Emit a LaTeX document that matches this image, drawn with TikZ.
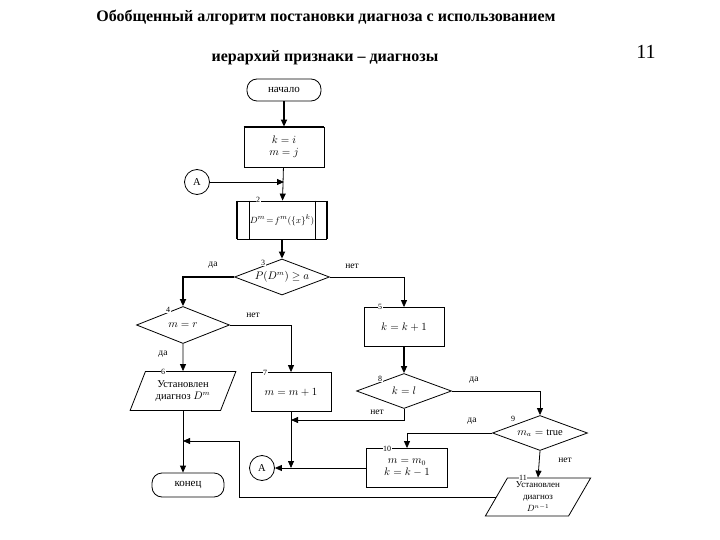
\documentclass[tikz,border=0pt]{standalone}
\usepackage{fontspec}
\setmainfont{Liberation Serif}
\usetikzlibrary{shapes.geometric,arrows.meta,calc}
\begin{document}
\begin{tikzpicture}[x=1pt,y=-1pt,
  base/.style={draw, line width=0.8pt, inner sep=1pt, font=\fontsize{10.5}{12}\selectfont, align=center},
  term/.style={base, rectangle, rounded corners=10pt},
  proc/.style={base, rectangle},
  dec/.style={base, diamond, aspect=2.6, inner sep=0pt},
  io/.style={base, trapezium, trapezium left angle=62, trapezium right angle=118, trapezium stretches=true, inner sep=0pt},
  conn/.style={base, circle, minimum size=25pt, inner sep=0pt},
  arr/.style={line width=0.8pt, -{Triangle[length=7pt,width=6pt]}},
  tarr/.style={arr, line width=1.6pt},
  num/.style={font=\fontsize{8}{9}\selectfont, fill=white, inner sep=0.5pt},
  lbl/.style={font=\fontsize{9.5}{11}\selectfont, inner sep=0pt},
  ttl/.style={font=\bfseries\fontsize{16}{19}\selectfont, inner sep=0pt}
]
\useasboundingbox (0,0) rectangle (720,540);
% titles
\node[ttl] (t1) at (326,17) {Обобщенный алгоритм постановки диагноза с использованием};
\node[ttl] (t2) at (325,58) {иерархий признаки – диагнозы};
\node[font=\fontsize{20}{24}\selectfont, inner sep=0pt] (pg) at (646,52) {11};
% nodes
\node[term, minimum width=74pt, minimum height=22pt, font=\fontsize{11}{13}\selectfont] (start) at (284,90) {начало};
\node[proc, minimum width=80pt, minimum height=40pt] (b1) at (284,147) {$k = i$\\$m = j$};
\node[conn] (A1) at (197,182) {A};
\node[proc, minimum width=89pt, minimum height=38pt, font=\fontsize{9.5}{11}\selectfont] (b2) at (282,220) {$D^m\!=\!f^m(\{x\}^k)$};
\node[dec, minimum width=95pt, minimum height=36pt] (d3) at (282,277) {$P(D^m)\geq a$};
\node[dec, minimum width=93pt, minimum height=37pt] (d4) at (183,325) {$m = r$};
\node[proc, minimum width=80pt, minimum height=39pt] (b5) at (404,327) {$k = k + 1$};
\node[io, minimum width=106pt, minimum height=39pt] (p6) at (183,391) {Установлен\\диагноз $D^m$};
\node[proc, minimum width=80pt, minimum height=39pt] (b7) at (291,392) {$m = m + 1$};
\node[dec, minimum width=95pt, minimum height=35pt] (d8) at (404,391) {$k = l$};
\node[dec, minimum width=95pt, minimum height=35pt] (d9) at (540,433) {$m_a = \mathrm{true}$};
\node[proc, minimum width=81pt, minimum height=39pt] (b10) at (407,468) {$m = m_0$\\$k = k - 1$};
\node[conn] (A2) at (262,468) {A};
\node[term, minimum width=72pt, minimum height=24pt, font=\fontsize{11}{13}\selectfont] (end) at (188,485) {конец};
\node[io, minimum width=106pt, minimum height=38pt, font=\fontsize{9}{12}\selectfont] (p11) at (538,497) {Установлен\\диагноз\\$D^{n-1}$};
% emphasised edges
\draw[line width=1.6pt] (b1.north west) -- (b1.north east);
\draw[line width=1.6pt] (b2.north west) -- (b2.south west) (b2.north east) -- (b2.south east);
\draw[line width=0.8pt] ([xshift=12pt]b2.north west) -- ([xshift=12pt]b2.south west)
  ([xshift=-12pt]b2.north east) -- ([xshift=-12pt]b2.south east);
% block numbers
\node[num] (n2) at (258,200) {2};
\node[num] (n3) at (263,263) {3};
\node[num] (n4) at (168,310) {4};
\node[num] (n5) at (380,307) {5};
\node[num] (n6) at (163,372) {6};
\node[num] (n7) at (265,373) {7};
\node[num] (n8) at (380,379) {8};
\node[num] (n9) at (513,419) {9};
\node[num] (n10) at (387,449) {10};
\node[num] (n11) at (523,478) {11};
% connectors
\coordinate (j1) at (291,420);
\coordinate (c1) at (239,441);
\draw[tarr] (start) -- (b1);
\draw[arr] (b1) -- (b2);
\draw[arr] (A1) -- (A1 -| b1);
\draw[tarr] (b2) -- (d3);
\draw[tarr] (d3.west) -| (d4.north);
\draw[arr] (d3.east) -| (b5.north);
\draw[arr] (d4.east) -| (b7.north);
\draw[arr] (d4.south) -- (p6.north);
\draw[tarr] (b5) -- (d8);
\draw[arr] (d8.east) -| (d9.north);
\draw[arr] (d8.south) |- (j1);
\draw[arr] (b7.south) -- (b7.south |- A2);
\draw[arr] (b10.west) -- (A2.east);
\draw[arr] (d9.west) -| (b10.north);
\draw[arr] (d9.south) -- (p11.north);
\draw[arr] (p6.south) -- (p6.south |- end.north);
\draw[arr] (p11.west) -| (c1) -- (c1 -| p6.south);
% branch labels
\node[lbl] (l1) at (213,265) {да};
\node[lbl] (l2) at (352,266) {нет};
\node[lbl] (l3) at (253,315) {нет};
\node[lbl] (l4) at (163,354) {да};
\node[lbl] (l5) at (474,380) {да};
\node[lbl] (l6) at (377,412) {нет};
\node[lbl] (l7) at (472,421) {да};
\node[lbl] (l8) at (565,460) {нет};
\end{tikzpicture}
\end{document}
